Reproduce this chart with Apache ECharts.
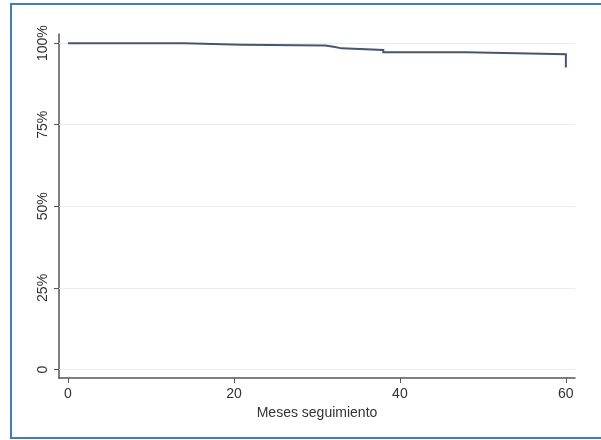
<!DOCTYPE html>
<html>
<head>
<meta charset="utf-8">
<script src="https://cdn.jsdelivr.net/npm/echarts@6/dist/echarts.min.js"></script>
<style>html,body{margin:0;padding:0;background:#fff}#c{width:601px;height:440px}</style>
</head>
<body>
<div id="c"></div>
<script>
// Kaplan-Meier step data (months, survival %)
var months   = [0, 14, 21, 31, 32, 33, 38, 48, 60];
var survival = [100, 99.5, 99.3, 98.9, 98.4, 97.9, 97.2, 96.6, 92.5];
var yTicks = [0, 25, 50, 75, 100];
var yTickLabels = ['0', '25%', '50%', '75%', '100%'];
var xTicks = [0, 20, 40, 60];
var xTitle = 'Meses seguimiento';

// build step path: hold each value until the next event time, then drop
var data = [];
months.forEach(function (m, i) {
  if (i > 0) data.push([m, survival[i - 1]]);
  data.push([m, survival[i]]);
});
var chart = echarts.init(document.getElementById('c'));
chart.setOption({
  animation: false,
  backgroundColor: '#fff',
  textStyle: { fontFamily: 'Liberation Sans, Arial, sans-serif' },
  graphic: [{
    type: 'rect', silent: true, z: 0,
    shape: { x: 11, y: 4, width: 620, height: 434 },
    style: { fill: 'none', stroke: '#3f7cc4', lineWidth: 2 }
  }],
  grid: { left: 59, right: 26, top: 34, bottom: 62 },
  xAxis: {
    type: 'value', min: -1.08, max: 61.1,
    name: xTitle, nameLocation: 'middle', nameGap: 27,
    nameTextStyle: { color: '#333', fontSize: 14 },
    axisLine: { show: true, onZero: false, lineStyle: { color: '#555', width: 1.5 } },
    axisTick: { show: true, customValues: xTicks, length: 5, lineStyle: { color: '#555' } },
    axisLabel: { customValues: xTicks, color: '#333', fontSize: 14, margin: 9 },
    splitLine: { show: false }
  },
  yAxis: {
    type: 'value', min: -2.6, max: 102.8,
    axisLine: { show: true, onZero: false, lineStyle: { color: '#555', width: 1.5 } },
    axisTick: { show: true, customValues: yTicks, length: 5, lineStyle: { color: '#555' } },
    axisLabel: {
      customValues: yTicks, rotate: 90, color: '#333', fontSize: 14, margin: 9,
      formatter: function (v) { var i = yTicks.indexOf(v); return i >= 0 ? yTickLabels[i] : ''; }
    },
    splitLine: { show: false }
  },
  series: [{
    type: 'line', data: [], z: 1,
    markLine: {
      silent: true, symbol: 'none', label: { show: false }, z: 1,
      lineStyle: { color: '#ececec', width: 1, type: 'solid' },
      data: yTicks.map(function (v) { return { yAxis: v }; })
    }
  }, {
    type: 'line', data: data, showSymbol: false, sampling: null,
    lineStyle: { color: '#46566e', width: 2, join: 'miter' },
    z: 5
  }]
});
</script>
</body>
</html>
